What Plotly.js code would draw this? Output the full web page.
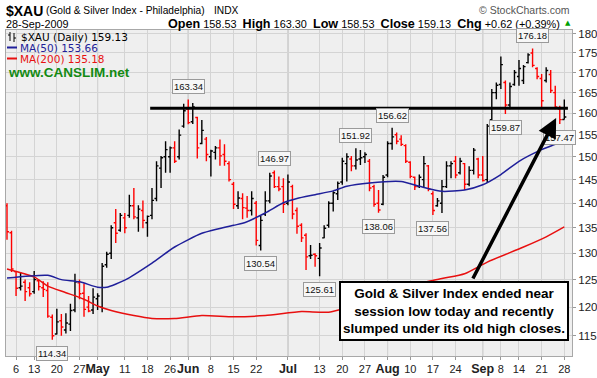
<!DOCTYPE html>
<html><head><meta charset="utf-8">
<script src="https://cdn.plot.ly/plotly-3.0.1.min.js"></script>
<style>html,body{margin:0;padding:0;background:#fff}#chart{width:597px;height:378px}</style>
</head><body><div id="chart"></div>
<script>
// Daily bars, 2 Apr 2009 .. 28 Sep 2009 (trading-day index 0..123)
const opens = [139.5,134.0,126.5,123.5,124.5,123.5,122.8,124.8,123.5,123.0,118.2,115.3,117.6,116.0,117.0,119.5,124.4,122.5,120.0,119.5,
121.5,120.0,127.8,130.0,136.0,134.5,137.0,137.5,139.5,137.0,138.5,136.0,137.5,141.0,147.5,150.0,150.0,152.0,150.0,157.0,
161.0,158.0,159.0,153.0,154.0,150.0,151.0,152.0,150.5,148.5,144.0,139.5,141.0,139.0,138.5,140.0,131.5,137.8,140.5,146.5,
143.5,143.5,140.0,143.5,138.5,135.5,133.5,129.5,129.8,129.0,133.0,135.5,140.0,142.0,144.5,148.5,149.5,148.0,149.5,150.0,
149.0,143.5,140.0,139.8,146.0,153.0,155.0,154.0,152.5,148.8,145.5,143.5,145.0,148.0,142.0,139.5,140.0,143.5,148.0,149.0,
146.5,148.5,144.0,147.0,149.5,146.0,145.0,158.5,165.0,167.0,167.5,162.0,167.0,169.0,168.0,172.5,175.0,171.0,168.5,168.0,
169.5,165.0,161.0,158.53];
const highs = [140.0,134.4,126.6,126.4,125.0,124.5,126.6,125.0,124.7,124.5,118.7,119.7,118.8,118.9,120.6,126.1,125.0,124.3,122.0,123.4,
122.5,128.1,130.3,135.5,138.8,138.0,138.0,141.8,143.2,139.6,140.6,137.5,143.2,149.0,150.2,153.5,152.3,153.5,156.2,162.3,
163.34,162.5,159.2,158.4,154.5,151.6,152.4,153.9,152.8,149.0,144.5,142.5,142.1,141.5,142.5,140.5,137.4,142.5,146.5,146.97,
145.7,145.3,146.1,143.9,139.1,135.9,133.9,131.6,130.0,132.0,135.5,140.4,142.5,144.6,149.8,150.8,150.2,151.92,151.5,151.0,
149.5,143.9,142.8,146.0,153.5,156.62,155.5,154.9,152.8,149.0,145.7,146.1,150.2,148.2,142.5,141.1,144.9,149.0,149.0,150.2,
149.8,148.6,147.9,152.0,149.8,150.2,157.5,165.9,167.5,174.1,168.0,167.5,170.6,173.2,171.9,174.9,176.18,171.3,169.6,171.3,
170.6,166.7,161.8,163.30];
const lows = [132.6,126.4,122.0,123.0,121.1,121.9,122.4,123.0,121.8,118.1,114.34,115.2,115.0,115.4,115.8,119.1,121.4,118.3,119.1,118.8,
119.5,119.1,127.2,128.9,132.0,134.2,133.9,137.0,136.7,134.2,134.9,133.2,136.7,140.4,143.2,146.5,146.5,148.6,149.4,156.6,
157.4,157.5,149.6,152.8,149.0,145.7,149.4,148.0,148.0,144.6,138.8,138.8,136.7,137.0,137.5,131.5,130.54,137.4,140.0,143.2,
142.5,138.0,139.6,136.7,133.8,132.2,126.8,128.9,127.4,125.61,132.9,135.0,138.3,140.7,143.9,144.6,146.8,147.2,148.2,148.6,
142.5,139.3,138.06,139.6,145.5,151.6,152.8,152.4,148.6,145.3,142.8,143.2,143.2,142.5,137.56,139.3,138.0,143.2,145.3,145.3,
146.1,142.8,143.6,146.1,145.3,144.6,144.3,158.2,163.4,165.9,159.87,161.0,166.7,166.7,167.1,172.3,171.3,168.3,161.0,167.5,
164.9,161.0,157.47,158.53];
const closes = [134.2,127.0,123.4,123.8,122.8,122.4,125.0,123.7,123.2,118.4,115.0,117.4,116.5,117.2,119.4,124.6,122.4,119.6,119.3,121.8,
122.0,127.5,129.8,135.0,133.9,137.5,135.0,139.5,137.2,138.8,136.5,137.3,140.6,148.0,149.8,151.6,152.0,149.0,154.9,160.6,
157.8,161.5,152.0,156.0,150.5,151.3,152.0,150.2,149.0,145.0,139.8,141.1,139.1,138.5,141.0,132.5,136.5,140.5,145.8,143.5,
143.0,139.8,144.5,137.8,135.3,133.0,129.3,129.6,129.5,131.0,134.9,140.0,142.2,144.2,149.0,150.0,148.0,149.3,149.8,150.5,
143.2,139.8,138.6,145.5,153.0,154.5,153.5,152.8,149.0,145.7,143.5,145.5,148.5,143.0,138.5,140.5,143.5,148.0,148.5,146.0,
149.0,144.0,147.0,151.5,146.0,144.8,157.0,165.0,166.8,172.0,162.0,166.5,170.0,171.0,171.5,174.5,171.8,169.0,163.0,170.5,
165.5,161.5,158.51,159.13];

const tickIdx  = [2,6,11,16,20,26,31,36,40,45,50,55,62,69,74,79,84,89,94,99,105,109,113,118,123];
const tickText = ['6','13','20','27','May','11','18','26','Jun','8','15','22','Jul','13','20','27','Aug','10','17','24','Sep','8','14','21','28'];
const monthIdx = [20,40,62,84,105];

const ma50Idx = [0,9,12,16,20,22,26,32,37,43,50,52,57,61,64,68,72,75,80,87,91,96,101,105,109,113,118,121,123];
const ma50    = [125.3,125.8,125.0,124.6,123.6,123.6,124.9,128.1,131.2,133.9,135.5,135.9,138.0,140.1,141.0,141.8,142.6,143.6,144.3,144.6,143.6,142.5,142.8,143.9,146.1,149.0,151.6,152.8,153.66];
const ma200Idx = [0,6,9,13,17,20,23,28,32,37,43,50,57,65,71,79,86,96,101,106,114,119,123];
const ma200    = [127.0,125.5,123.8,122.6,121.4,120.2,119.4,118.5,118.0,118.0,118.5,118.3,118.5,119.2,119.1,120.9,123.4,125.2,126.1,128.3,131.2,133.2,135.18];

const peakIdx  = [10,40,56,59,69,77,82,85,94,110,116,122];
const peakSide = ['L','H','L','H','L','H','L','H','L','L','H','L'];

const resistanceLevel = 161.2;
const resistanceFrom = 31.6, resistanceTo = 123.8;

// ---- layout helpers (pixel -> paper) ----
const ML=6, MR=25, MT=30, MB=22, W=597, H=378;
const PW=W-ML-MR, PH=H-MT-MB;
const px = x => (x-ML)/PW;
const py = y => (H-MB-y)/PH;

// split bars by close vs previous close
const up={x:[],o:[],h:[],l:[],c:[]}, dn={x:[],o:[],h:[],l:[],c:[]};
for(let i=0;i<closes.length;i++){
  const t = (i>0 && closes[i]>=closes[i-1]) ? up : dn;
  t.x.push(i); t.o.push(opens[i]); t.h.push(highs[i]); t.l.push(lows[i]); t.c.push(closes[i]);
}
function ohlc(t,color){
  return {type:'ohlc', x:t.x, open:t.o, high:t.h, low:t.l, close:t.c,
    increasing:{line:{color:color,width:1.4}}, decreasing:{line:{color:color,width:1.4}},
    tickwidth:0.45, hoverinfo:'skip', showlegend:false};
}
const traces = [
  {type:'scatter', mode:'lines', x:ma200Idx, y:ma200, line:{color:'#e81010',width:1.5,shape:'spline',smoothing:0.6}, hoverinfo:'skip', showlegend:false},
  {type:'scatter', mode:'lines', x:ma50Idx, y:ma50, line:{color:'#1f1f9a',width:1.5,shape:'spline',smoothing:0.6}, hoverinfo:'skip', showlegend:false},
  ohlc(up,'#000000'),
  ohlc(dn,'#ff0000'),
  {type:'scatter', mode:'lines', x:[resistanceFrom,resistanceTo], y:[resistanceLevel,resistanceLevel], line:{color:'#000',width:3}, hoverinfo:'skip', showlegend:false}
];

const shapes = monthIdx.map(m=>({type:'line', xref:'x', yref:'paper', x0:m, x1:m, y0:0, y1:1, layer:'below', line:{color:'#a9a9a9', width:1}}));
// legend swatches
shapes.push({type:'line', xref:'paper', yref:'paper', x0:px(7), x1:px(17), y0:py(47.5), y1:py(47.5), line:{color:'#1f1f9a',width:2}});
shapes.push({type:'line', xref:'paper', yref:'paper', x0:px(7), x1:px(17), y0:py(58.5), y1:py(58.5), line:{color:'#e81010',width:2}});
// small OHLC icon
shapes.push({type:'line', xref:'paper', yref:'paper', x0:px(10), x1:px(10), y0:py(32), y1:py(41), line:{color:'#000',width:1}});
shapes.push({type:'line', xref:'paper', yref:'paper', x0:px(8), x1:px(10), y0:py(35), y1:py(35), line:{color:'#000',width:1}});
shapes.push({type:'line', xref:'paper', yref:'paper', x0:px(14), x1:px(14), y0:py(33), y1:py(42), line:{color:'#000',width:1}});
shapes.push({type:'line', xref:'paper', yref:'paper', x0:px(14), x1:px(16), y0:py(38), y1:py(38), line:{color:'#000',width:1}});

const F='Liberation Sans', V='DejaVu Sans';
const ann = [];
function txt(text,x,y,size,opts){
  ann.push(Object.assign({text:text, xref:'paper', yref:'paper', x:px(x), y:py(y), xanchor:'left', yanchor:'middle', showarrow:false,
    font:{family:F,size:size,color:'#000'}}, opts||{}));
}
const B = s => '<span style="font-size:12.6px"><b>'+s+'</b></span>';
txt('<b>$XAU</b>',4,11,14);
txt('(Gold &amp; Silver Index - Philadelphia)',44,11,10.2);
txt('INDX',212,11,10.2);
txt('28-Sep-2009',4,24,10.8);
txt(B('Open')+' 158.53  '+B('High')+' 163.30  '+B('Low')+' 158.53  '+B('Close')+' 159.13  '+B('Chg')+' +0.62 (+0.39%)',562,24,10.9,{xanchor:'right'});
txt('▲',563,23,7,{font:{family:V,size:7,color:'#00a000'}});
txt('© StockCharts.com',572,10,10.5,{xanchor:'right',font:{family:F,size:10.5,color:'#555'}});
txt('$XAU (Daily) 159.13',19,37,10.5,{font:{family:V,size:10.5,color:'#000'}});
txt('MA(50) 153.66',18,48,10.5,{font:{family:V,size:10.5,color:'#1f1f9a'}});
txt('MA(200) 135.18',18,59,10.5,{font:{family:V,size:10.5,color:'#e81010'}});
txt('<b>www.CANSLIM.net</b>',6,72,13.5,{font:{family:F,size:13.5,color:'#138a13'}});

// peak / trough value labels
peakIdx.forEach((k,n)=>{
  const isH = peakSide[n]==='H';
  const v = isH ? highs[k] : lows[k];
  ann.push({text:v.toFixed(2), xref:'x', yref:'y', x:k, y:Math.log10(v), xanchor:'center',
    yanchor: isH?'bottom':'top', yshift: isH?5:-6, showarrow:false,
    font:{family:F,size:9.5,color:'#111'}, bgcolor:'#f7f7f7', bordercolor:'#9a9a9a', borderwidth:1, borderpad:1});
});

// arrow and comment box
ann.push({text:'', xref:'x', yref:'y', x:121.2, y:Math.log10(158.9), ax:-84, ay:162, showarrow:true,
  arrowhead:2, arrowsize:1.1, arrowwidth:3.5, arrowcolor:'#000', standoff:0});
ann.push({text:'<b>Gold &amp; Silver Index ended near<br>session low today and recently<br>slumped under its old high closes.</b>',
  xref:'paper', yref:'paper', x:px(453.5), y:py(310.5), xanchor:'center', yanchor:'middle', showarrow:false,
  width:226, height:56, bgcolor:'#fff', bordercolor:'#000', borderwidth:2, borderpad:0,
  font:{family:F,size:13.5,color:'#000'}});

const layout = {
  width:W, height:H, margin:{l:ML,r:MR,t:MT,b:MB,pad:0},
  paper_bgcolor:'#fff', plot_bgcolor:'#efefef', showlegend:false,
  xaxis:{type:'linear', range:[-0.22,124.7], tickmode:'array', tickvals:tickIdx,
    ticktext:tickText.map(t=>/^[A-Z]/.test(t)?'<span style="font-size:12.5px"><b>'+t+'</b></span>':t), tickangle:0, automargin:false,
    tickfont:{family:F,size:11,color:'#222'}, ticks:'outside', ticklen:3, tickcolor:'#999',
    showgrid:true, gridcolor:'#d4d4d4', gridwidth:1, showline:true, linecolor:'#a8a8a8', mirror:true,
    zeroline:false, rangeslider:{visible:false}, fixedrange:true},
  yaxis:{type:'log', side:'right', range:[Math.log10(111.6),Math.log10(181.07)], automargin:false,
    tickmode:'array', tickvals:[115,120,125,130,135,140,145,150,155,160,165,170,175,180],
    ticktext:['115','120','125','130','135','140','145','150','155','160','165','170','175','180'],
    tickfont:{family:F,size:11.5,color:'#222'}, ticks:'outside', ticklen:3, tickcolor:'#999',
    showgrid:true, gridcolor:'#d4d4d4', gridwidth:1, showline:true, linecolor:'#a8a8a8', mirror:true,
    zeroline:false, fixedrange:true},
  shapes:shapes, annotations:ann
};
Plotly.newPlot('chart', traces, layout, {staticPlot:true, displayModeBar:false});
</script></body></html>
